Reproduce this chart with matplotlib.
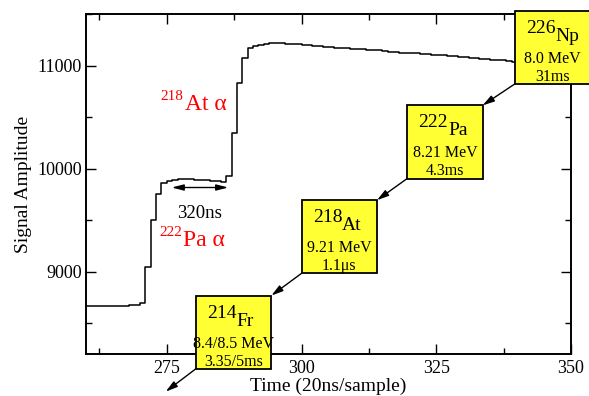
import matplotlib
matplotlib.use("Agg")
import matplotlib.pyplot as plt
from matplotlib.patches import Rectangle
from matplotlib.ticker import MultipleLocator

plt.rcParams['font.family'] = ['Liberation Serif', 'DejaVu Serif']

t = list(range(260, 351))
signal = [8662, 8662, 8665, 8665, 8666, 8668, 8668, 8670, 8672, 8674,
          8695, 9040, 9505, 9750, 9855, 9875, 9888, 9895, 9897, 9895,
          9892, 9888, 9884, 9880, 9876, 9870, 9925, 10345, 10830, 11070,
          11170, 11192, 11203, 11208, 11215, 11217, 11214, 11212, 11210, 11206,
          11200, 11196, 11192, 11187, 11182, 11178, 11174, 11170, 11167, 11164,
          11160, 11157, 11155, 11150, 11146, 11140, 11134, 11128, 11124, 11120,
          11122, 11118, 11116, 11110, 11103, 11100, 11098, 11096, 11090, 11085,
          11078, 11074, 11070, 11066, 11062, 11058, 11054, 11050, 11044, 11038,
          11034, 11030, 11026, 11022, 11018, 11014, 11010, 11006, 11002, 10998,
          10994]

# decay chain boxes
isotopes = ['Np', 'Pa', 'At', 'Fr']
mass_numbers = ['226', '222', '218', '214']
energies = ['8.0 MeV', '8.21 MeV', '9.21 MeV', '8.4/8.5 MeV']
half_lives = ['31ms', '4.3ms', '1.1\u03bcs', '3.35/5ms']
box_left = [339.6, 319.6, 300.0, 280.4]
box_top = [11532, 10613, 9693, 8767]
box_w = 14.0
box_h = 710

# alpha labels on the trace
alpha_mass = ['218', '222']
alpha_label = ['At \u03b1', 'Pa \u03b1']
alpha_x = [278.3, 278.0]
alpha_y = [10569, 9253]

fig = plt.figure(figsize=(5.89, 3.96), dpi=100)
ax = fig.add_axes([86/589, 1-354/396, 485/589, 340/396])

ax.plot(t, signal, drawstyle='steps-post', color='black', lw=1.1)

ax.set_xlim(260, 350)
ax.set_ylim(8200, 11500)
ax.xaxis.set_major_locator(MultipleLocator(25))
ax.xaxis.set_minor_locator(MultipleLocator(12.5))
ax.yaxis.set_major_locator(MultipleLocator(1000))
ax.yaxis.set_minor_locator(MultipleLocator(500))
ax.tick_params(which='both', direction='in', top=True, right=True, width=1)
ax.tick_params(which='major', length=7.5, labelsize=13)
ax.tick_params(axis='x', which='major', pad=4)
ax.tick_params(axis='y', which='major', pad=3)
ax.tick_params(which='minor', length=4)
for s in ax.spines.values():
    s.set_linewidth(1.4)

ax.set_xlabel('Time (20ns/sample)', fontsize=14, labelpad=1)
ax.set_ylabel('Signal Amplitude', fontsize=14, labelpad=4)

for m, lab, x, y in zip(alpha_mass, alpha_label, alpha_x, alpha_y):
    ax.text(x, y, lab, color='red', fontsize=17, ha='left', va='baseline')
    ax.annotate(m, (x, y), xytext=(-1, 10), textcoords='offset pixels',
                color='red', fontsize=11, ha='right', va='baseline')

ax.text(281.0, 9516, '320ns', color='black', fontsize=13.5,
        ha='center', va='baseline')
ax.annotate('', xy=(275.9, 9816), xytext=(286.4, 9816),
            arrowprops=dict(arrowstyle='<|-|>,head_length=0.7,head_width=0.18',
                            color='black', lw=1, shrinkA=0, shrinkB=0))

for i in range(len(isotopes)):
    left, top = box_left[i], box_top[i]
    ax.add_patch(Rectangle((left, top - box_h), box_w, box_h, facecolor='#ffff33',
                           edgecolor='black', lw=1.3, clip_on=False, zorder=5))
    cx = left + box_w / 2
    kw = dict(xycoords='data', textcoords='offset pixels', va='baseline',
              annotation_clip=False, zorder=6)
    ax.annotate(mass_numbers[i], (cx, top), xytext=(3, -22), ha='right', fontsize=14, **kw)
    ax.annotate(isotopes[i], (cx, top), xytext=(3, -30), ha='left', fontsize=14, **kw)
    ax.annotate(energies[i], (cx, top), xytext=(0, -52), ha='center', fontsize=11.5, **kw)
    ax.annotate(half_lives[i], (cx, top), xytext=(0, -70), ha='center', fontsize=11.5, **kw)

# arrows along the chain
arrow = dict(arrowstyle='-|>,head_length=0.7,head_width=0.2', color='black', lw=1,
             shrinkA=0, shrinkB=0)
for i in range(len(isotopes) - 1):
    ax.annotate('', xy=(box_left[i+1] + box_w, box_top[i+1]),
                xytext=(box_left[i], box_top[i] - box_h),
                arrowprops=arrow, annotation_clip=False)
ax.annotate('', xy=(box_left[-1] - 5.6, box_top[-1] - box_h - 222),
            xytext=(box_left[-1], box_top[-1] - box_h),
            arrowprops=arrow, annotation_clip=False)

fig.savefig('out.png', dpi=100)
